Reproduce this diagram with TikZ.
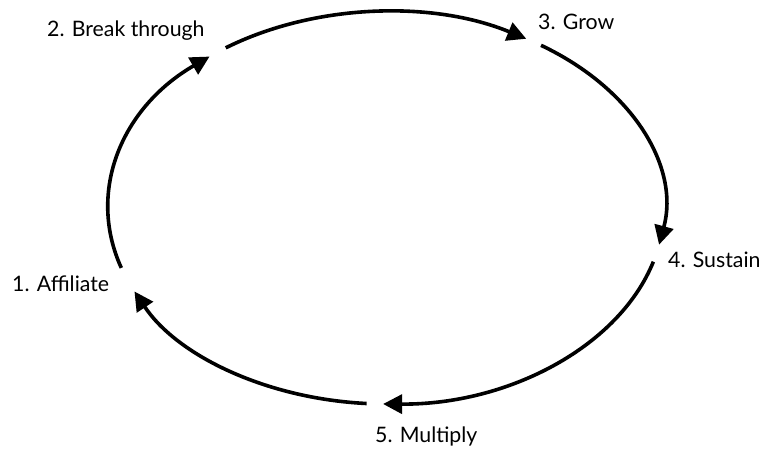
\documentclass[tikz,border=0pt]{standalone}
\usepackage{fontspec}
\setmainfont{Lato}
\usetikzlibrary{arrows.meta,calc}
\begin{document}
\begin{tikzpicture}[x=1pt,y=1pt,
  cyc/.style={line width=3.6pt,-{Triangle[length=19pt,width=19pt]}},
  lbl/.style={anchor=base west,inner sep=0pt,font=\fontsize{21.3}{24}\selectfont}]
\useasboundingbox (0,0) rectangle (760,449);
\coordinate (c) at (386,241);
\def\rx{278}\def\ry{196}
\coordinate (s1) at ($(c)+(197.8:278 and 196)$);
\coordinate (s2) at ($(c)+(125.2:278 and 196)$);
\coordinate (s3) at ($(c)+(56.1:278 and 196)$);
\coordinate (s4) at ($(c)+(-15.9:278 and 196)$);
\coordinate (s5) at ($(c)+(-94:278 and 196)$);
\draw[cyc] (s1) arc[start angle=197.8,end angle=129.4,x radius=\rx,y radius=\ry];
\draw[cyc] (s2) arc[start angle=125.2,end angle=59.7,x radius=\rx,y radius=\ry];
\draw[cyc] (s3) arc[start angle=56.1,end angle=-10.8,x radius=\rx,y radius=\ry];
\draw[cyc] (s4) arc[start angle=-15.9,end angle=-90.6,x radius=\rx,y radius=\ry];
\draw[cyc] (s5) arc[start angle=-94,end angle=-154.8,x radius=\rx,y radius=\ry];
\node[lbl] (l1) at (12,157) {1. Affiliate};
\node[lbl] (l2) at (47,412) {2. Break through};
\node[lbl] (l3) at (538,419) {3. Grow};
\node[lbl] (l4) at (668,181) {4. Sustain};
\node[lbl] (l5) at (375,6) {5. Multiply};
\end{tikzpicture}
\end{document}
